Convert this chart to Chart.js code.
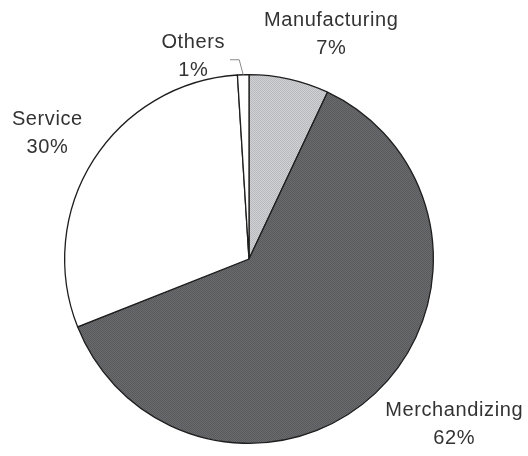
<!DOCTYPE html>
<html>
<head>
<meta charset="utf-8">
<script src="https://cdn.jsdelivr.net/npm/chart.js@4"></script>
<style>
  html, body { margin: 0; padding: 0; background: #fff; }
  canvas { display: block; }
</style>
</head>
<body>
<canvas id="graficoSetores" width="528" height="456"></canvas>
<script>
const setores = ["Manufacturing", "Merchandizing", "Service", "Others"];
const percentuais = [7, 62, 30, 1];

// deslocamento de cada rótulo a partir da borda da fatia (px)
const ajusteRotulos = [[42, -45], [79, 31], [-46, -27], [-50, -18]];

function texturaCinza(corA, corB) {
    const c = document.createElement("canvas");
    c.width = 2;
    c.height = 2;
    const g = c.getContext("2d");
    g.fillStyle = corA;
    g.fillRect(0, 0, 2, 2);
    g.fillStyle = corB;
    g.fillRect(0, 0, 1, 1);
    g.fillRect(1, 1, 1, 1);
    return g.createPattern(c, "repeat");
}

const preenchimentos = [
    texturaCinza("#d0d1d4", "#b8babd"),
    texturaCinza("#696b6d", "#585a5d"),
    "#ffffff",
    "#ffffff"
];

const rotulosPlugin = {
    id: "rotulos",
    afterDatasetsDraw(chart) {
        const ctx = chart.ctx;
        const meta = chart.getDatasetMeta(0);
        const total = percentuais.reduce((a, b) => a + b, 0);
        ctx.save();
        ctx.font = "20px 'Liberation Sans', Arial, sans-serif";
        ctx.fillStyle = "#333333";
        ctx.textAlign = "center";
        ctx.textBaseline = "middle";
        if ("letterSpacing" in ctx) ctx.letterSpacing = "0.6px";
        meta.data.forEach((arco, i) => {
            const p = arco.getProps(["x", "y", "startAngle", "endAngle", "outerRadius"], true);
            const meio = (p.startAngle + p.endAngle) / 2;
            const bx = p.x + Math.cos(meio) * p.outerRadius;
            const by = p.y + Math.sin(meio) * p.outerRadius;
            const cx = bx + ajusteRotulos[i][0];
            const cy = by + ajusteRotulos[i][1];
            ctx.fillText(setores[i], cx, cy - 14);
            ctx.fillText(percentuais[i] + "%", cx, cy + 14);

            // fatia muito pequena: linha guia até a borda
            if (percentuais[i] / total < 0.02) {
                const largura = ctx.measureText(setores[i]).width;
                const x0 = cx + largura / 2 + 5;
                const y0 = cy + 3;
                ctx.strokeStyle = "#8a8a8a";
                ctx.lineWidth = 1;
                ctx.beginPath();
                ctx.moveTo(x0, y0);
                ctx.lineTo(bx - 4, y0);
                ctx.lineTo(bx, by);
                ctx.stroke();
            }
        });
        ctx.restore();
    }
};

const ctx = document.getElementById("graficoSetores").getContext("2d");
const grafico = new Chart(ctx, {
    type: "pie",
    data: {
        labels: setores,
        datasets: [{
            data: percentuais,
            backgroundColor: preenchimentos,
            borderColor: "#1e1e1e",
            borderWidth: 1.3
        }]
    },
    options: {
        responsive: false,
        animation: false,
        layout: {
            padding: { top: 74, bottom: 12, left: 64, right: 94 }
        },
        plugins: {
            legend: { display: false },
            tooltip: { enabled: false }
        }
    },
    plugins: [rotulosPlugin]
});
</script>
</body>
</html>
